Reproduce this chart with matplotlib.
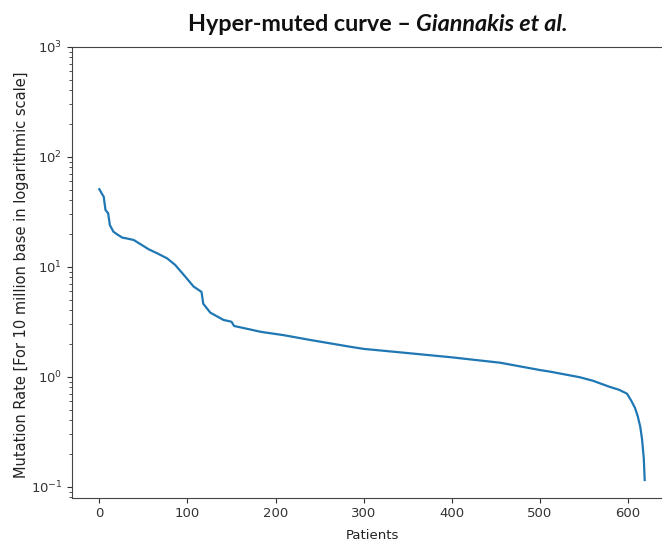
import matplotlib
matplotlib.use('Agg')
import matplotlib.pyplot as plt

# Mutation rate per patient, sorted from highest to lowest
patients = [0, 3, 5, 7, 10, 12, 16, 21, 26, 32, 39, 48, 56, 66, 77, 86, 96, 107, 116,
            118, 126, 141, 150, 153, 171, 183, 210, 239, 285, 300, 350, 400,
            455, 500, 512, 545, 560, 579, 590, 599, 604, 608, 611, 614, 616, 618, 619]
rates = [50.6, 46.0, 43.3, 32.8, 30.6, 23.9, 20.8, 19.5, 18.4, 18.0, 17.5, 15.8, 14.4,
         13.2, 11.9, 10.4, 8.4, 6.6, 5.9, 4.6, 3.82, 3.28, 3.16, 2.89, 2.69, 2.56,
         2.38, 2.16, 1.87, 1.79, 1.64, 1.50, 1.34, 1.15, 1.11, 0.99, 0.92,
         0.81, 0.76, 0.70, 0.60, 0.52, 0.44, 0.35, 0.27, 0.18, 0.115]

TITLE_MAIN = 'Hyper-muted curve – '
TITLE_REF = 'Giannakis et al.'

fig = plt.figure(figsize=(6.62, 5.42), dpi=100)
ax = fig.add_axes([72 / 662, 44.3 / 542, 600 / 662, 451 / 542])

ax.plot(patients, rates, color='#1f77b4', linewidth=1.6)
ax.set_yscale('log')
ax.set_ylim(10 ** -1.1, 1e3)
ax.set_xlim(-31, 650)
ax.set_xticks([0, 100, 200, 300, 400, 500, 600])

ax.tick_params(labelsize=9.5, colors='#333333', labelcolor='#333333')
ax.tick_params(which='minor', colors='#333333')
for spine in ax.spines.values():
    spine.set_color('#444444')

ax.set_xlabel('Patients', fontsize=9.5, color='#222222', labelpad=6)
ax.set_ylabel('Mutation Rate [For 10 million base in logarithmic scale]',
              fontsize=10.5, color='#222222')
ax.yaxis.set_label_coords(-(72 - 29) / 600, (497.7 - 275) / 451)

# Title: plain bold part followed by the italic reference
t1 = fig.text(188 / 662, 1 - 31 / 542, TITLE_MAIN, fontsize=16.8, fontweight='bold',
              family='Lato', ha='left', va='baseline', color='#111111')
fig.canvas.draw()
ax.annotate(TITLE_REF, xy=(1, 0), xycoords=t1, va='bottom', ha='left',
            fontsize=16.8, fontweight='bold', fontstyle='italic', family='Lato',
            color='#111111', annotation_clip=False)

fig.savefig('out.png', dpi=100)
